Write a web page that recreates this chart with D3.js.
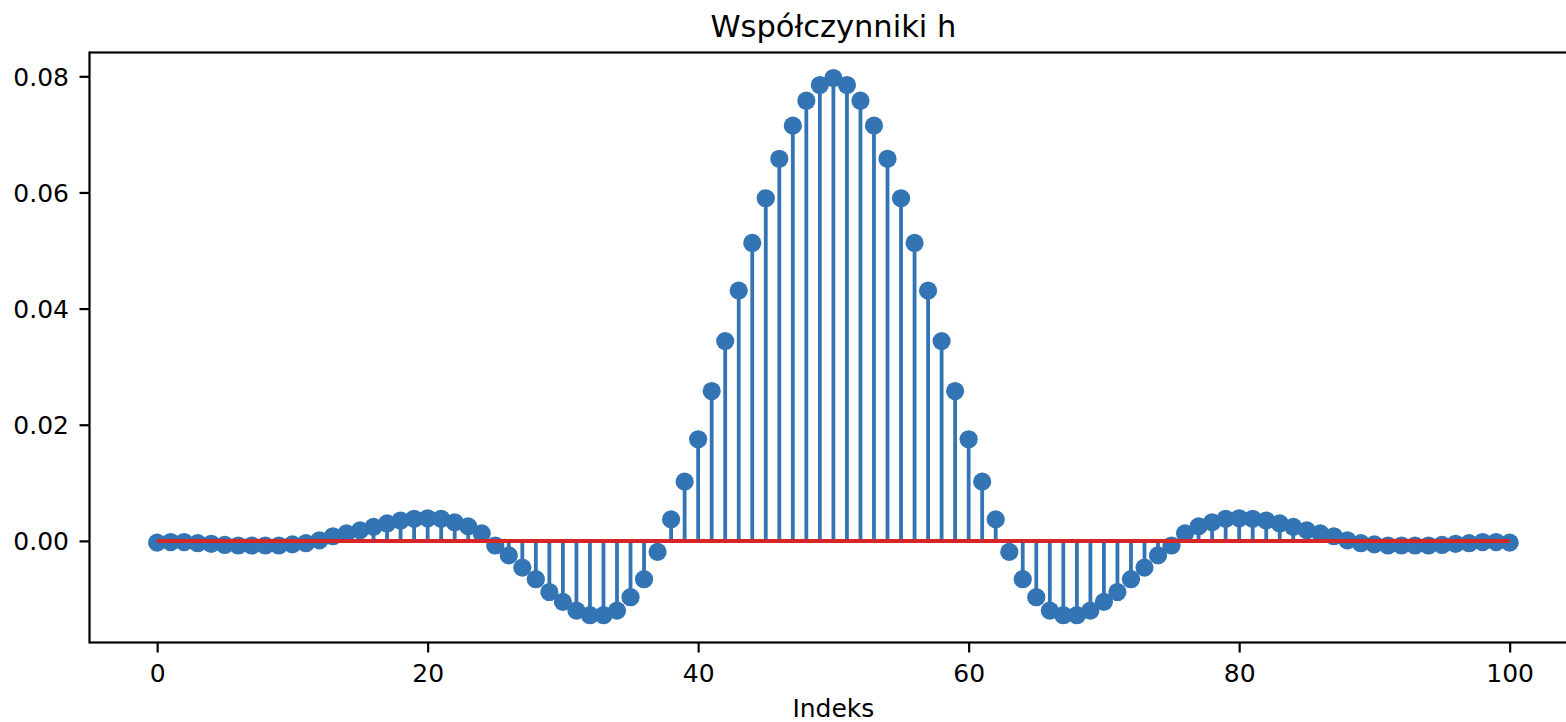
<!DOCTYPE html>
<html>
<head>
<meta charset="utf-8">
<script src="https://cdn.jsdelivr.net/npm/d3@7"></script>
<style>
  body { margin: 0; background: #fff; }
  svg { display: block; font-family: 'DejaVu Sans', sans-serif; }
</style>
</head>
<body>
<div class="chart"></div>
<script>
// filter coefficients h[0..100]
const indices = d3.range(0, 101)
const hValues = [
  -0.0003, -0.0002, -0.0002, -0.0004, -0.0005, -0.0007, -0.0008, -0.0008, -0.0008, -0.0008,
  -0.0006, -0.0004, 0.0001, 0.0008, 0.0013, 0.0018, 0.0024, 0.0030, 0.0035, 0.0038,
  0.0039, 0.0038, 0.0032, 0.0025, 0.0013, -0.0008, -0.0025, -0.0046, -0.0066, -0.0088,
  -0.0105, -0.0120, -0.0128, -0.0128, -0.0120, -0.0097, -0.0066, -0.0019, 0.0037, 0.0102,
  0.0175, 0.0258, 0.0344, 0.0431, 0.0513, 0.0590, 0.0658, 0.0715, 0.0758, 0.0785,
  0.0797,
  0.0785, 0.0758, 0.0715, 0.0658, 0.0590, 0.0513, 0.0431, 0.0344, 0.0258, 0.0175,
  0.0102, 0.0037, -0.0019, -0.0066, -0.0097, -0.0120, -0.0128, -0.0128, -0.0120, -0.0105,
  -0.0088, -0.0066, -0.0046, -0.0025, -0.0008, 0.0013, 0.0025, 0.0032, 0.0038, 0.0039,
  0.0038, 0.0035, 0.0030, 0.0024, 0.0018, 0.0013, 0.0008, 0.0001, -0.0004, -0.0006,
  -0.0008, -0.0008, -0.0008, -0.0008, -0.0007, -0.0005, -0.0004, -0.0002, -0.0002, -0.0003
]
const xTicks = [0, 20, 40, 60, 80, 100]
const yTicks = [0.00, 0.02, 0.04, 0.06, 0.08]

const titleText = 'Współczynniki h'
const xLabelText = 'Indeks'

const width = 1566
const height = 722

const axLeft = 89.5, axRight = 1577.3, axTop = 52.5, axBottom = 642.5

const blue = '#3274b4'
const red = '#d62728'

const x = d3.scaleLinear().domain([-5, 105]).range([axLeft, axRight])
const y = d3.scaleLinear().domain([-0.0175, 0.0841]).range([axBottom, axTop])

const data = indices.map((d, i) => ({ i: d, v: hValues[i] }))

const svg = d3.select('.chart')
  .append('svg')
  .attr('width', width)
  .attr('height', height)

const plot = svg.append('g')

// stems
plot.selectAll('line.stem')
  .data(data)
  .enter()
  .append('line')
  .attr('class', 'stem')
  .attr('x1', d => x(d.i))
  .attr('x2', d => x(d.i))
  .attr('y1', y(0))
  .attr('y2', d => y(d.v))
  .attr('stroke', blue)
  .attr('stroke-width', 3.8)

// markers
plot.selectAll('circle')
  .data(data)
  .enter()
  .append('circle')
  .attr('cx', d => x(d.i))
  .attr('cy', d => y(d.v))
  .attr('r', 9.1)
  .attr('fill', blue)

// baseline
plot.append('line')
  .attr('x1', x(indices[0]))
  .attr('x2', x(indices[indices.length - 1]))
  .attr('y1', y(0))
  .attr('y2', y(0))
  .attr('stroke', red)
  .attr('stroke-width', 4)

// axes
const xAxis = svg.append('g')
  .attr('transform', `translate(0,${axBottom})`)
  .call(d3.axisBottom(x).tickValues(xTicks).tickSize(10).tickSizeOuter(0).tickPadding(11.5).tickFormat(d3.format('d')))

const yAxis = svg.append('g')
  .attr('transform', `translate(${axLeft},0)`)
  .call(d3.axisLeft(y).tickValues(yTicks).tickSize(10).tickSizeOuter(0).tickPadding(10.5).tickFormat(d3.format('.2f')))

xAxis.select('.domain').remove()
yAxis.select('.domain').remove()

;[xAxis, yAxis].forEach(a => {
  a.selectAll('.tick line').attr('stroke', '#000').attr('stroke-width', 2.2)
  a.selectAll('.tick text')
    .attr('fill', '#000')
    .style('font-size', '25px')
    .style('font-family', "'DejaVu Sans', sans-serif")
})
yAxis.selectAll('.tick text').attr('dy', '0.36em')

// spines
svg.append('rect')
  .attr('x', axLeft)
  .attr('y', axTop)
  .attr('width', axRight - axLeft)
  .attr('height', axBottom - axTop)
  .attr('fill', 'none')
  .attr('stroke', '#000')
  .attr('stroke-width', 2.2)

// title and label
svg.append('text')
  .attr('x', (axLeft + axRight) / 2)
  .attr('y', 37)
  .attr('text-anchor', 'middle')
  .style('font-size', '30.5px')
  .text(titleText)

svg.append('text')
  .attr('x', (axLeft + axRight) / 2)
  .attr('y', 716.5)
  .attr('text-anchor', 'middle')
  .style('font-size', '25px')
  .text(xLabelText)
</script>
</body>
</html>
